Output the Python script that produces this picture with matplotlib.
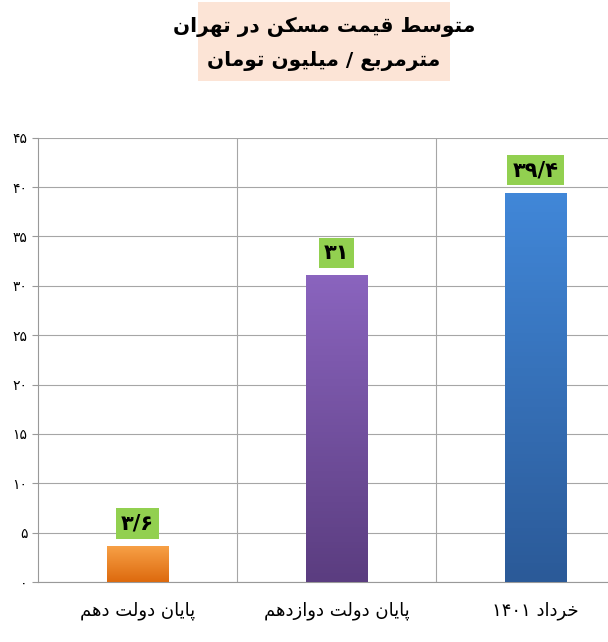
import numpy as np
import matplotlib.pyplot as plt
from matplotlib.colors import LinearSegmentedColormap

# minimal Persian shaping (matplotlib does no Arabic joining / bidi)
FORMS = {
    'ا': ('\uFE8D', '\uFE8E', None, None),
    'ب': ('\uFE8F', '\uFE90', '\uFE91', '\uFE92'),
    'پ': ('\uFB56', '\uFB57', '\uFB58', '\uFB59'),
    'ت': ('\uFE95', '\uFE96', '\uFE97', '\uFE98'),
    'خ': ('\uFEA5', '\uFEA6', '\uFEA7', '\uFEA8'),
    'د': ('\uFEA9', '\uFEAA', None, None),
    'ر': ('\uFEAD', '\uFEAE', None, None),
    'ز': ('\uFEAF', '\uFEB0', None, None),
    'س': ('\uFEB1', '\uFEB2', '\uFEB3', '\uFEB4'),
    'ط': ('\uFEC1', '\uFEC2', '\uFEC3', '\uFEC4'),
    'ع': ('\uFEC9', '\uFECA', '\uFECB', '\uFECC'),
    'ق': ('\uFED5', '\uFED6', '\uFED7', '\uFED8'),
    'ک': ('\uFB8E', '\uFB8F', '\uFB90', '\uFB91'),
    'ل': ('\uFEDD', '\uFEDE', '\uFEDF', '\uFEE0'),
    'م': ('\uFEE1', '\uFEE2', '\uFEE3', '\uFEE4'),
    'ن': ('\uFEE5', '\uFEE6', '\uFEE7', '\uFEE8'),
    'ه': ('\uFEE9', '\uFEEA', '\uFEEB', '\uFEEC'),
    'و': ('\uFEED', '\uFEEE', None, None),
    'ی': ('\uFBFC', '\uFBFD', '\uFBFE', '\uFBFF'),
}


def shape_word(w):
    out = []
    for i, c in enumerate(w):
        if c not in FORMS:
            out.append(c)
            continue
        prev = w[i - 1] if i > 0 else None
        nxt = w[i + 1] if i + 1 < len(w) else None
        join_prev = prev in FORMS and FORMS[prev][2] is not None
        join_next = nxt in FORMS and FORMS[c][2] is not None
        iso, fin, ini, med = FORMS[c]
        if join_prev and join_next:
            out.append(med)
        elif join_prev:
            out.append(fin)
        elif join_next:
            out.append(ini)
        else:
            out.append(iso)
    s = ''.join(out)
    if any(ch in FORMS for ch in w):
        return s[::-1]
    return s


def fa(text):
    return ' '.join(shape_word(w) for w in text.split(' ')[::-1])


title1 = 'متوسط قیمت مسکن در تهران'
title2 = 'مترمربع / میلیون تومان'
categories = ['پایان دولت دهم', 'پایان دولت دوازدهم', 'خرداد ۱۴۰۱']
values = [3.6, 31, 39.4]
value_labels = ['۳/۶', '۳۱', '۳۹/۴']
yticks = [0, 5, 10, 15, 20, 25, 30, 35, 40, 45]
ytick_labels = ['۰', '۵', '۱۰', '۱۵', '۲۰', '۲۵', '۳۰', '۳۵', '۴۰', '۴۵']
bar_colors = [('#F7A046', '#DD6A0E'), ('#8A64BE', '#5B3D80'), ('#4187D8', '#2B5A98')]

plt.rcParams['font.family'] = ['DejaVu Sans']
fig = plt.figure(figsize=(6.08, 6.42), dpi=100)
ax = fig.add_axes([0.0625, 0.0935, 0.982, 0.692])

x = np.arange(len(categories))
w = 0.31
for xi, v, (top, bot) in zip(x, values, bar_colors):
    cmap = LinearSegmentedColormap.from_list('g', [bot, top])
    grad = np.linspace(0, 1, 100).reshape(-1, 1)
    ax.imshow(grad, extent=(xi - w / 2, xi + w / 2, 0, v), origin='lower',
              cmap=cmap, aspect='auto', zorder=3)
for xi, v, lab in zip(x, values, value_labels):
    ax.text(xi, v + 1.3, lab, ha='center', va='bottom', fontsize=15, fontweight='bold',
            bbox=dict(boxstyle='square,pad=0.25', fc='#92D050', ec='none'), zorder=4)

ax.set_xlim(-0.5, 2.5)
ax.set_ylim(0, 45)
ax.set_yticks(yticks)
ax.set_yticklabels(ytick_labels, fontsize=10)
ax.set_xticks(x)
ax.set_xticklabels([fa(c) for c in categories], fontsize=13)
ax.tick_params(axis='x', length=0, pad=14)
ax.tick_params(axis='y', length=4, color='#999999')
ax.set_xticks([0.5, 1.5], minor=True)
ax.tick_params(axis='x', which='minor', length=0)
ax.grid(axis='y', color='#a6a6a6', lw=0.8, zorder=0)
ax.grid(axis='x', which='minor', color='#a6a6a6', lw=0.8, zorder=0)
for s in ['top', 'right']:
    ax.spines[s].set_visible(False)
ax.spines['left'].set_color('#999999')
ax.spines['bottom'].set_color('#999999')

fig.text(0.533, 0.958, fa(title1), ha='center', va='center', fontsize=14.5, fontweight='bold')
fig.text(0.533, 0.905, fa(title2), ha='center', va='center', fontsize=14.5, fontweight='bold')
fig.patches.append(plt.Rectangle((0.325, 0.874), 0.415, 0.123, transform=fig.transFigure,
                                 fc='#FCE4D6', ec='none', zorder=-1))

fig.savefig('out.png', dpi=100)
